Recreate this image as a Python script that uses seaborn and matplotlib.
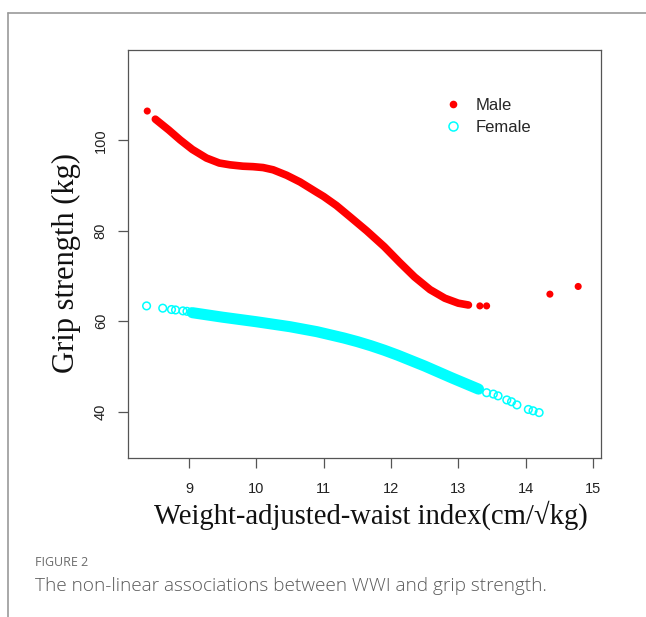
import matplotlib
matplotlib.use("Agg")
import matplotlib.pyplot as plt
import seaborn as sns
import pandas as pd
from matplotlib.lines import Line2D

# ---- data ----
male_curve_x = [8.50, 8.70, 8.87, 9.05, 9.26, 9.45, 9.61, 9.80, 9.95, 10.10, 10.25, 10.45,
                10.65, 10.90, 11.00, 11.19, 11.40, 11.64, 11.90, 12.13, 12.35, 12.58, 12.80,
                13.00, 13.15]
male_curve_y = [104.7, 102.3, 100.1, 98.0, 96.1, 95.0, 94.6, 94.3, 94.2, 94.0, 93.5, 92.3,
                90.8, 88.5, 87.6, 85.6, 83.0, 80.0, 76.5, 73.0, 69.8, 67.0, 65.1,
                64.0, 63.6]
male_pts_x = [8.38, 13.32, 13.42, 14.36, 14.78]
male_pts_y = [106.5, 63.4, 63.4, 66.0, 67.7]

female_curve_x = [9.05, 9.50, 10.00, 10.50, 10.90, 11.30, 11.50, 11.70, 11.90, 12.10,
                  12.50, 12.90, 13.30]
female_curve_y = [61.9, 60.9, 59.9, 58.8, 57.7, 56.3, 55.5, 54.6, 53.6, 52.5,
                  50.1, 47.5, 45.0]
female_pts_x = [8.37, 8.61, 8.74, 8.80, 8.91, 8.97, 9.03,
                13.30, 13.42, 13.52, 13.59, 13.72, 13.79, 13.87, 14.04, 14.11, 14.20]
female_pts_y = [63.4, 62.9, 62.6, 62.5, 62.3, 62.2, 62.0,
                44.96, 44.2, 43.9, 43.5, 42.6, 42.2, 41.5, 40.5, 40.2, 39.8]

x_ticks = [9, 10, 11, 12, 13, 14, 15]
y_ticks = [40, 60, 80, 100]
series_names = ["Male", "Female"]
colors = {"Male": "#ff0000", "Female": "#00ffff"}

# ---- figure ----
sns.set_style("white")
fig = plt.figure(figsize=(6.46, 6.17), dpi=100)
ax = fig.add_axes([128/646, 1-458/617, (601-128)/646, (458-50)/617])

mc = pd.DataFrame({"x": male_curve_x, "y": male_curve_y})
fc = pd.DataFrame({"x": female_curve_x, "y": female_curve_y})
mp = pd.DataFrame({"x": male_pts_x, "y": male_pts_y})
fp = pd.DataFrame({"x": female_pts_x, "y": female_pts_y})

sns.lineplot(data=fc, x="x", y="y", ax=ax, color=colors["Female"], lw=8,
             solid_capstyle="round", solid_joinstyle="round", legend=False)
sns.scatterplot(data=fp, x="x", y="y", ax=ax, marker="o", s=30,
                facecolors="none", edgecolor=colors["Female"], linewidth=1.1, legend=False)
sns.lineplot(data=mc, x="x", y="y", ax=ax, color=colors["Male"], lw=5.5,
             solid_capstyle="round", solid_joinstyle="round", legend=False)
sns.scatterplot(data=mp, x="x", y="y", ax=ax, marker="o", s=26,
                color=colors["Male"], edgecolor="none", legend=False)

ax.set_xlim(8.094, 15.119)
ax.set_ylim(29.76, 120.0)
ax.set_xticks(x_ticks)
ax.set_yticks(y_ticks)
ax.set_xticklabels([str(t) for t in x_ticks], fontsize=10.5, family="Liberation Sans")
ax.set_yticklabels([str(t) for t in y_ticks], fontsize=10.5, family="Liberation Sans",
                   rotation=90, va="center")
ax.tick_params(axis="both", which="both", direction="out", length=7.5, width=0.9,
               color="#555555", labelcolor="#222222", bottom=True, left=True)
ax.tick_params(axis="x", pad=9.5)
ax.tick_params(axis="y", pad=7)
for sp in ax.spines.values():
    sp.set_visible(True)
    sp.set_color("#555555")
    sp.set_linewidth(0.9)

ax.set_xlabel("Weight-adjusted-waist index(cm/\u221akg)", fontsize=20.6,
              family="Liberation Serif", color="#111111")
ax.set_ylabel("Grip strength (kg)", fontsize=22, family="Liberation Serif",
              color="#111111")
ax.xaxis.set_label_coords(0.514, -0.103)
ax.yaxis.set_label_coords(-0.100, 0.479)

handles = [
    Line2D([], [], marker="o", ls="none", color=colors["Male"], markersize=5.5,
           markeredgewidth=0),
    Line2D([], [], marker="o", ls="none", markerfacecolor="none",
           markeredgecolor=colors["Female"], markersize=6.5, markeredgewidth=1.1),
]
leg = ax.legend(handles, series_names, frameon=False, loc="upper left",
                bbox_to_anchor=(0.62, 0.92), handletextpad=0.35, labelspacing=0.45,
                prop={"family": "Liberation Sans", "size": 12})

# outer frame lines
fig.add_artist(Line2D([8/646, 1.0], [1-13/617, 1-13/617], color="#9a9a9a", lw=1.2,
                      transform=fig.transFigure))
fig.add_artist(Line2D([8/646, 8/646], [0, 1-13/617], color="#9a9a9a", lw=1.2,
                      transform=fig.transFigure))

fig.text(35/646, 1-563/617, "FIGURE 2", fontsize=9, family="Open Sans",
         color="#6b6b6b", va="center", ha="left")
fig.text(35/646, 1-586/617, "The non-linear associations between WWI and grip strength.",
         fontsize=13.7, family="Open Sans", color="#5a5a5a", va="center", ha="left",
         fontweight="light")

fig.savefig("out.png", dpi=100)
